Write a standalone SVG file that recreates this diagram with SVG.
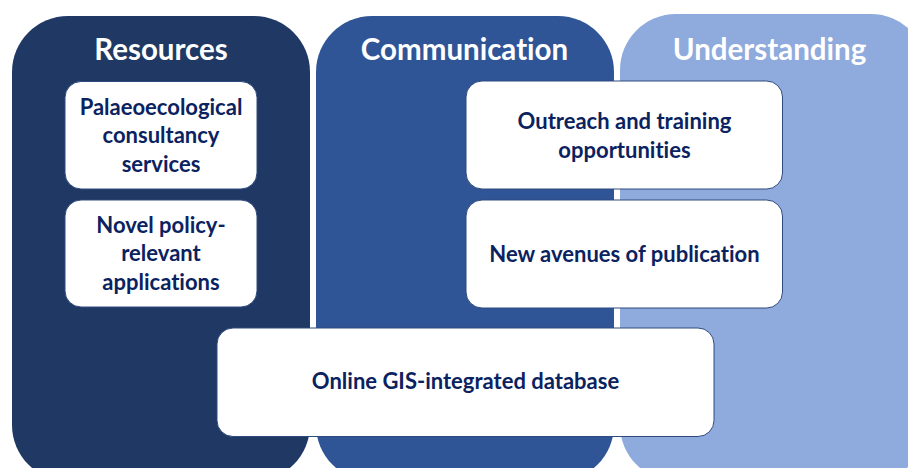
<svg xmlns="http://www.w3.org/2000/svg" width="908" height="468" viewBox="0 0 908 468">
<style>
text{font-variant-ligatures:none;font-feature-settings:"liga" 0,"clig" 0}
.title{font-family:Lato,"Open Sans","Liberation Sans",sans-serif;font-weight:700;font-size:29.5px;fill:#ffffff;text-anchor:middle}
.lbl{font-family:Lato,"Open Sans","Liberation Sans",sans-serif;font-weight:700;font-size:22px;fill:#0B2260;text-anchor:middle}
.box{fill:#ffffff;stroke:#2E4A7E;stroke-width:1}
</style>
<rect width="908" height="468" fill="#ffffff"/>
<g id="panel-understanding">
<rect x="620" y="14" width="307" height="467" rx="56" fill="#8FAADC"/>
<text class="title" x="769.5" y="60">Understanding</text>
</g>
<g id="panel-communication">
<rect x="316" y="16" width="298" height="465" rx="56" fill="#2F5597"/>
<text class="title" x="464.5" y="60">Communication</text>
</g>
<g id="panel-resources">
<rect x="12" y="16" width="298" height="465" rx="56" fill="#203864"/>
<text class="title" x="161" y="60">Resources</text>
</g>
<g id="node-palaeo">
<rect class="box" x="65" y="81.5" width="192" height="107.5" rx="16"/>
<text class="lbl" x="161" y="114.5">Palaeoecological</text>
<text class="lbl" x="161" y="143">consultancy</text>
<text class="lbl" x="161" y="171.5">services</text>
</g>
<g id="node-novel">
<rect class="box" x="65" y="200" width="192" height="107" rx="16"/>
<text class="lbl" x="161" y="232.5">Novel policy-</text>
<text class="lbl" x="161" y="261">relevant</text>
<text class="lbl" x="161" y="289.5">applications</text>
</g>
<g id="node-outreach">
<rect class="box" x="466" y="81" width="316.5" height="108" rx="16"/>
<text class="lbl" x="624.5" y="129">Outreach and training</text>
<text class="lbl" x="624.5" y="157.5">opportunities</text>
</g>
<g id="node-avenues">
<rect class="box" x="466" y="200" width="316.5" height="108" rx="16"/>
<text class="lbl" x="624.5" y="262">New avenues of publication</text>
</g>
<g id="node-gis">
<rect class="box" x="217" y="328" width="497" height="108.5" rx="16"/>
<text class="lbl" x="465.5" y="388.5">Online GIS-integrated database</text>
</g>
<g id="connectors"></g>
</svg>
